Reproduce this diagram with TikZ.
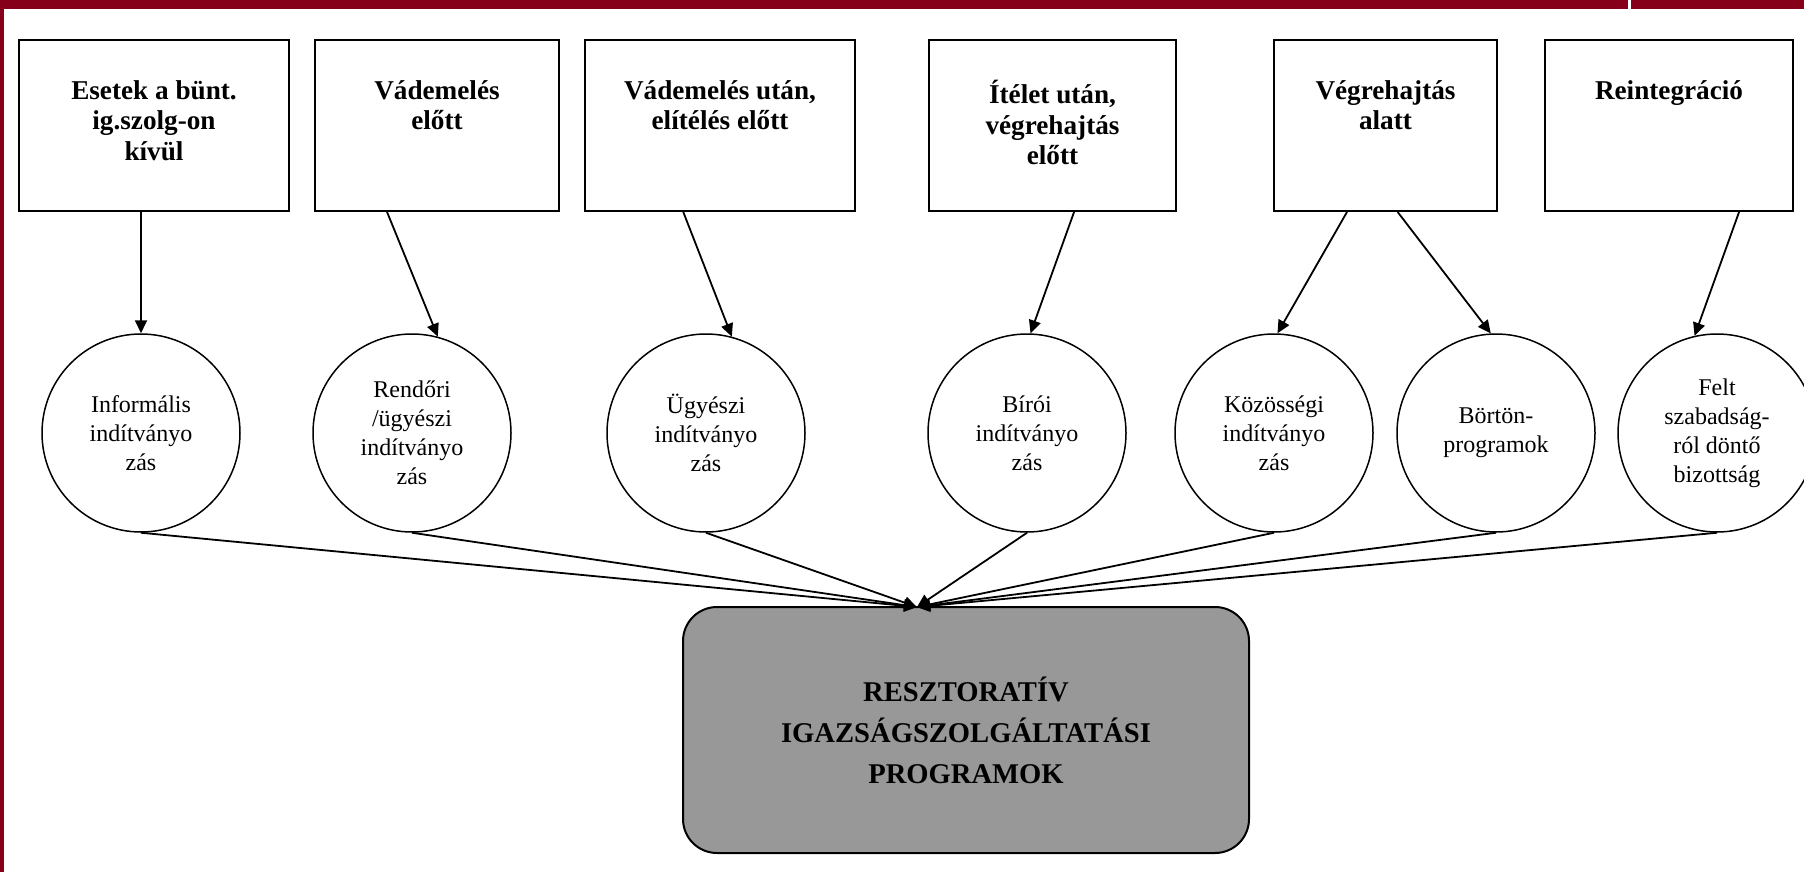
\documentclass[tikz,border=0pt]{standalone}
\usepackage{fontspec}
\setmainfont{Liberation Serif}
\usetikzlibrary{arrows.meta}

\definecolor{framered}{RGB}{135,0,25}
\definecolor{boxgray}{RGB}{152,152,152}

\tikzset{
  phase/.style={draw, line width=1pt, minimum width=#1, minimum height=85.5pt, inner sep=0pt},
  phasetext/.style={anchor=north, yshift=-20.5pt, align=center, inner sep=0pt,
    font=\bfseries\fontsize{13.6}{15.3}\selectfont},
  stage/.style={circle, draw, line width=0.75pt, minimum size=99pt, inner sep=0pt,
    align=center, font=\fontsize{12}{14.5}\selectfont},
  link/.style={line width=0.9pt, -{Triangle[length=6.5pt,width=6pt]}}
}

\begin{document}
\begin{tikzpicture}[x=0.5pt,y=-0.5pt]
\useasboundingbox (0,0) rectangle (1804,872);
\fill[framered] (0,0) rectangle (1628,9);
\fill[framered] (1631,0) rectangle (1804,9);
\fill[framered] (0,0) rectangle (4,872);

\node[phase=135pt] (p1) at (154,125.5) {};
\node[phase=122pt] (p2) at (437,125.5) {};
\node[phase=135pt] (p3) at (720,125.5) {};
\node[phase=123.5pt] (p4) at (1052.5,125.5) {};
\node[phase=111.5pt] (p5) at (1385.5,125.5) {};
\node[phase=124pt] (p6) at (1669,125.5) {};
\node[phasetext] (t1) at (p1.north) {Esetek a bünt.\\ig.szolg-on\\kívül};
\node[phasetext] (t2) at (p2.north) {Vádemelés\\előtt};
\node[phasetext] (t3) at (p3.north) {Vádemelés után,\\elítélés előtt};
\node[phasetext] (t4) at (p4.north) {Ítélet után,\\végrehajtás\\előtt};
\node[phasetext] (t5) at (p5.north) {Végrehajtás\\alatt};
\node[phasetext] (t6) at (p6.north) {Reintegráció};

\node[stage] (c1) at (141,433) {Informális\\indítványo\\zás};
\node[stage] (c2) at (412,433) {Rendőri\\/ügyészi\\indítványo\\zás};
\node[stage] (c3) at (706,433) {Ügyészi\\indítványo\\zás};
\node[stage] (c4) at (1027,433) {Bírói\\indítványo\\zás};
\node[stage] (c5) at (1274,433) {Közösségi\\indítványo\\zás};
\node[stage] (c6) at (1496,433) {Börtön-\\programok};
\node[stage] (c7) at (1717,433) {Felt\\szabadság-\\ról döntő\\bizottság};

\node[draw, line width=1pt, fill=boxgray, rounded corners=17pt, minimum width=283pt,
  minimum height=123pt, align=center, font=\bfseries\fontsize{14.3}{20.5}\selectfont]
  (prog) at (966,730) {RESZTORATÍV\\IGAZSÁGSZOLGÁLTATÁSI\\PROGRAMOK};
\coordinate (hub) at (917,607);

\draw[link] (c1.north |- p1.south) -- (c1.north);
\draw[link] (p2.-120) -- (c2.75);
\draw[link] (p3.-113) -- (c3.75);
\draw[link] (p4.-76) -- (c4.88);
\draw[link] (p5.-114) -- (c5.88);
\draw[link] (p5.-82) -- (c6.93);
\draw[link] (p6.-51) -- (c7.103);
\foreach \c in {c1,c2,c3,c4,c5,c6,c7}
  \draw[link] (\c.south) -- (hub);
\end{tikzpicture}
\end{document}
